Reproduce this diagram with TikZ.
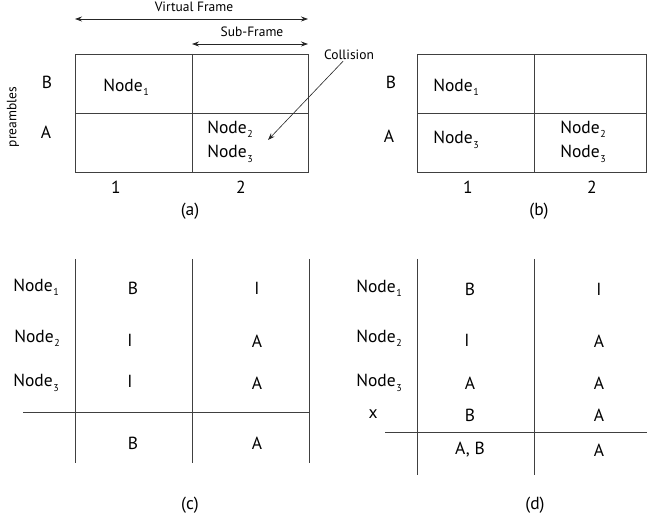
\documentclass[tikz,border=0pt]{standalone}
\usepackage{fontspec}
\setmainfont{PT Sans}
\usetikzlibrary{arrows.meta,positioning}
\newcommand{\nd}[1]{Node\kern0.5pt\raisebox{-0.5ex}{\fontsize{10}{10}\selectfont #1}}

\begin{document}
\begin{tikzpicture}[x=1pt,y=-1pt,
    lbl/.style={font=\fontsize{17.5}{19}\selectfont, inner sep=0pt},
    small/.style={font=\fontsize{13.5}{15}\selectfont, inner sep=1pt},
    grid/.style={draw=black!75, line width=0.9pt},
    dim/.style={draw=black!85, line width=0.7pt, {Stealth[length=7pt,width=5pt]}-{Stealth[length=7pt,width=5pt]}}]
  \useasboundingbox (0,0) rectangle (647,518);

  % (a) virtual frame with collision
  \coordinate (atl) at (75,54);
  \coordinate (abr) at (308,172);
  \coordinate (aml) at (75,113);
  \coordinate (amr) at (308,113);
  \coordinate (amt) at (192,54);
  \coordinate (amb) at (192,172);
  \draw[grid] (atl) rectangle (abr);
  \draw[grid] (aml) -- (amr);
  \draw[grid] (amt) -- (amb);
  \coordinate (vfl) at (75,19);
  \coordinate (vfr) at (308,19);
  \coordinate (sfl) at (192,44);
  \coordinate (sfr) at (308,44);
  \draw[dim] (vfl) -- (vfr);
  \draw[dim] (sfl) -- (sfr);
  \node[small] (vf) at (194,7) {Virtual Frame};
  \node[small] (sf) at (252,32) {Sub-Frame};
  \node[small, rotate=90] (pre) at (13,117) {preambles};
  \node[lbl] (aB) at (47,82) {B};
  \node[lbl] (aA) at (46,132) {A};
  \node[lbl] (an1) at (126,87) {\nd{1}};
  \node[lbl] (an2) at (230,129) {\nd{2}};
  \node[lbl] (an3) at (230,154) {\nd{3}};
  \node[lbl] (a1) at (116,187) {1};
  \node[lbl] (a2) at (241,187) {2};
  \node[lbl] (acap) at (190,211) {(a)};
  \node[small] (col) at (349,55) {Collision};
  \coordinate (colend) at (268,140);
  \draw[draw=black!85, line width=0.6pt, -{Stealth[length=7pt,width=5pt]}] (col) -- (colend);

  % (b) resolved frame
  \coordinate (btl) at (417,54);
  \coordinate (bbr) at (646,172);
  \coordinate (bml) at (417,113);
  \coordinate (bmr) at (646,113);
  \coordinate (bmt) at (534,54);
  \coordinate (bmb) at (534,172);
  \draw[grid] (btl) rectangle (bbr);
  \draw[grid] (bml) -- (bmr);
  \draw[grid] (bmt) -- (bmb);
  \node[lbl] (bB) at (391,82) {B};
  \node[lbl] (bA) at (389,136) {A};
  \node[lbl] (bn1) at (456,87) {\nd{1}};
  \node[lbl] (bn3l) at (456,140) {\nd{3}};
  \node[lbl] (bn2) at (583,129) {\nd{2}};
  \node[lbl] (bn3) at (583,154) {\nd{3}};
  \node[lbl] (b1) at (468,187) {1};
  \node[lbl] (b2) at (592,187) {2};
  \node[lbl] (bcap) at (539,211) {(b)};

  % (c) table
  \coordinate (c1t) at (75,259);   \coordinate (c1b) at (75,463);
  \coordinate (c2t) at (192,259);  \coordinate (c2b) at (192,463);
  \coordinate (c3t) at (309,259);  \coordinate (c3b) at (309,463);
  \coordinate (chl) at (23,412);   \coordinate (chr) at (309,412);
  \draw[grid] (c1t) -- (c1b);
  \draw[grid] (c2t) -- (c2b);
  \draw[grid] (c3t) -- (c3b);
  \draw[grid] (chl) -- (chr);
  \node[lbl] (cr1) at (36,287) {\nd{1}};
  \node[lbl] (cr2) at (37,338) {\nd{2}};
  \node[lbl] (cr3) at (36,383) {\nd{3}};
  \node[lbl] (c11) at (133,288) {B};
  \node[lbl] (c21) at (130,340) {I};
  \node[lbl] (c31) at (130,381) {I};
  \node[lbl] (c41) at (133,443) {B};
  \node[lbl] (c12) at (257,288) {I};
  \node[lbl] (c22) at (257,341) {A};
  \node[lbl] (c32) at (257,383) {A};
  \node[lbl] (c42) at (257,443) {A};
  \node[lbl] (ccap) at (190,505) {(c)};

  % (d) table with extra row
  \coordinate (d1t) at (417,259);  \coordinate (d1b) at (417,475);
  \coordinate (d2t) at (534,259);  \coordinate (d2b) at (534,475);
  \coordinate (dhl) at (385,432);  \coordinate (dhr) at (647,432);
  \draw[grid] (d1t) -- (d1b);
  \draw[grid] (d2t) -- (d2b);
  \draw[grid] (dhl) -- (dhr);
  \node[lbl] (dr1) at (379,288) {\nd{1}};
  \node[lbl] (dr2) at (379,338) {\nd{2}};
  \node[lbl] (dr3) at (379,383) {\nd{3}};
  \node[lbl] (drx) at (373,414) {x};
  \node[lbl] (d11) at (470,289) {B};
  \node[lbl] (d21) at (467,340) {I};
  \node[lbl] (d31) at (470,383) {A};
  \node[lbl] (d41) at (470,415) {B};
  \node[lbl] (d51) at (470,450) {A, B};
  \node[lbl] (d12) at (599,289) {I};
  \node[lbl] (d22) at (599,341) {A};
  \node[lbl] (d32) at (599,383) {A};
  \node[lbl] (d42) at (599,415) {A};
  \node[lbl] (d52) at (599,450) {A};
  \node[lbl] (dcap) at (535,505) {(d)};
\end{tikzpicture}
\end{document}
